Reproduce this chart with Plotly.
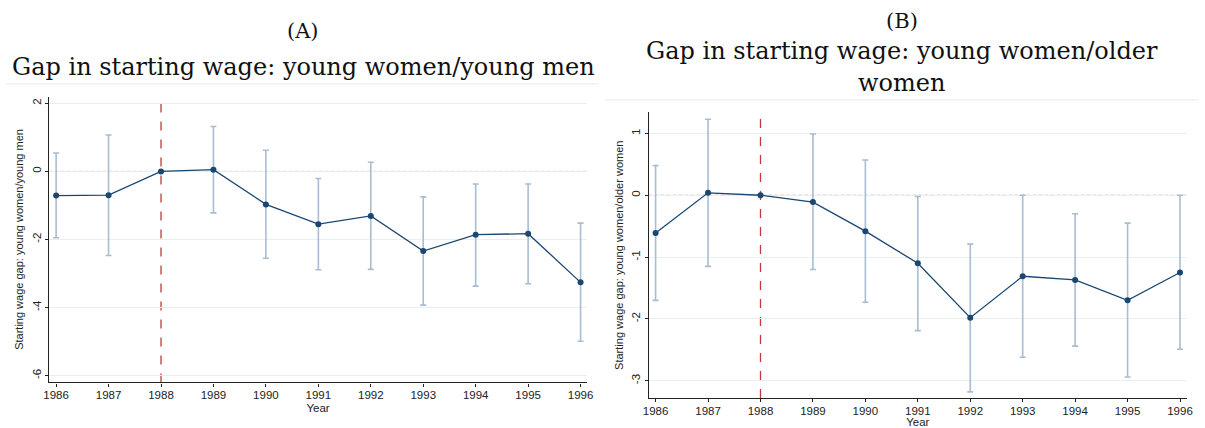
import plotly.graph_objects as go

years = [1986, 1987, 1988, 1989, 1990, 1991, 1992, 1993, 1994, 1995, 1996]

# Panel A: young women / young men
a_est = [-0.71, -0.70, 0.0, 0.05, -0.97, -1.55, -1.31, -2.34, -1.86, -1.83, -3.26]
a_hi = [0.54, 1.07, 0.0, 1.32, 0.62, -0.21, 0.27, -0.75, -0.37, -0.37, -1.52]
a_lo = [-1.95, -2.47, 0.0, -1.22, -2.55, -2.89, -2.88, -3.93, -3.37, -3.30, -4.99]

# Panel B: young women / older women
b_est = [-0.61, 0.04, 0.0, -0.11, -0.58, -1.10, -1.98, -1.31, -1.37, -1.70, -1.25]
b_hi = [0.48, 1.23, 0.0, 0.99, 0.57, -0.02, -0.79, 0.0, -0.30, -0.45, 0.0]
b_lo = [-1.70, -1.15, 0.0, -1.20, -1.73, -2.19, -3.18, -2.62, -2.44, -2.94, -2.49]

a_ticks = [2, 0, -2, -4, -6]
b_ticks = [1, 0, -1, -2, -3]
reform_year = 1988

NAVY = "#1a476f"
CI = "#a9bdd2"
RED = "#c0393b"
GRID = "#e8eff0"
AX = "#222222"

fig = go.Figure()

def add_panel(est, hi, lo, xa, ya):
    plus = [h - e for h, e in zip(hi, est)]
    minus = [e - l for e, l in zip(est, lo)]
    vis = [not (h == e == l) for h, e, l in zip(hi, est, lo)]
    plus = [p if v else None for p, v in zip(plus, vis)]
    minus = [m if v else None for m, v in zip(minus, vis)]
    fig.add_trace(go.Scatter(
        x=years, y=est, mode="markers", marker=dict(size=0.1, color="rgba(0,0,0,0)"),
        error_y=dict(type="data", symmetric=False, array=plus, arrayminus=minus,
                     color=CI, thickness=1.6, width=3),
        xaxis=xa, yaxis=ya, showlegend=False, hoverinfo="skip"))
    fig.add_trace(go.Scatter(
        x=years, y=est, mode="lines+markers",
        line=dict(color=NAVY, width=1.3),
        marker=dict(color=NAVY, size=6),
        xaxis=xa, yaxis=ya, showlegend=False))

add_panel(a_est, a_hi, a_lo, "x", "y")
add_panel(b_est, b_hi, b_lo, "x2", "y2")

sans = "Liberation Sans, Arial"
tickfont = dict(family=sans, size=11.5, color="#222222")
xcommon = dict(tickmode="array", tickvals=years, ticktext=[str(y) for y in years],
               showgrid=False, zeroline=False, showline=True, linecolor=AX, linewidth=1.2,
               ticks="outside", ticklen=3, tickcolor=AX, tickfont=tickfont,
               ticklabelstandoff=-1,
               title=dict(text="Year", font=dict(family=sans, size=11.5, color="#222222"), standoff=3))
ycommon = dict(showgrid=True, gridcolor=GRID, gridwidth=1.2, zeroline=False, showline=True,
               linecolor=AX, linewidth=1.2, ticks="outside", ticklen=3, tickcolor=AX,
               tickangle=-90, tickfont=tickfont)

fig.update_layout(
    width=1205, height=428,
    margin=dict(l=0, r=0, t=0, b=0),
    paper_bgcolor="white", plot_bgcolor="white",
    xaxis=dict(domain=[0.0363, 0.4869], range=[1985.87, 1996.12], anchor="y", **xcommon),
    yaxis=dict(domain=[0.1044, 0.774], range=[-6.2, 2.2], anchor="x", tickvals=a_ticks,
               ticktext=[str(t) for t in a_ticks],
               title=dict(text="Starting wage gap: young women/young men",
                          font=dict(family=sans, size=11, color="#222222"), standoff=4),
               **ycommon),
    xaxis2=dict(domain=[0.5388, 0.9898], range=[1985.87, 1996.13], anchor="y2", **xcommon),
    yaxis2=dict(domain=[0.0678, 0.7367], range=[-3.28, 1.34], anchor="x2", tickvals=b_ticks,
                ticktext=[str(t) for t in b_ticks],
                title=dict(text="Starting wage gap: young women/older women",
                           font=dict(family=sans, size=11, color="#222222"), standoff=4),
                **ycommon),
)

shapes = []
for xr, yr, (x0, x1) in [("x", "y", (1985.87, 1996.12)), ("x2", "y2", (1985.87, 1996.13))]:
    shapes.append(dict(type="line", xref=xr, yref=yr, x0=x0, x1=x1, y0=0, y1=0,
                       line=dict(color="#8a8a8a", width=1, dash="dot"), layer="below"))
    shapes.append(dict(type="line", xref=xr, yref=yr + " domain", x0=reform_year, x1=reform_year,
                       y0=0, y1=0.99, line=dict(color=RED, width=1.3, dash="dash"), layer="below"))
# separator lines under titles
shapes.append(dict(type="line", xref="paper", yref="paper", x0=0.0, x1=0.497,
                   y0=1 - 84 / 428, y1=1 - 84 / 428, line=dict(color="#eef2f2", width=1.5)))
shapes.append(dict(type="line", xref="paper", yref="paper", x0=0.502, x1=1.0,
                   y0=1 - 100 / 428, y1=1 - 100 / 428, line=dict(color="#eef2f2", width=1.5)))
fig.update_layout(shapes=shapes)

serif = "Palatino Linotype, Book Antiqua, Palatino, DejaVu Serif, serif"
anns = [
    dict(text="(A)", x=0.249, y=1 - 31 / 428, size=21),
    dict(text="Gap in starting wage: young women/young men", x=0.249, y=1 - 67 / 428, size=24),
    dict(text="(B)", x=0.751, y=1 - 21 / 428, size=21),
    dict(text="Gap in starting wage: young women/older", x=0.751, y=1 - 51 / 428, size=24),
    dict(text="women", x=0.751, y=1 - 83 / 428, size=24),
]
for a in anns:
    fig.add_annotation(text=a["text"], x=a["x"], y=a["y"], xref="paper", yref="paper",
                       showarrow=False, xanchor="center", yanchor="middle",
                       font=dict(family=serif, size=a["size"], color="#111111"))

fig.write_html("out.html", config={"displayModeBar": False},
               post_script="document.body.style.margin='0px';document.body.style.overflow='hidden';")
